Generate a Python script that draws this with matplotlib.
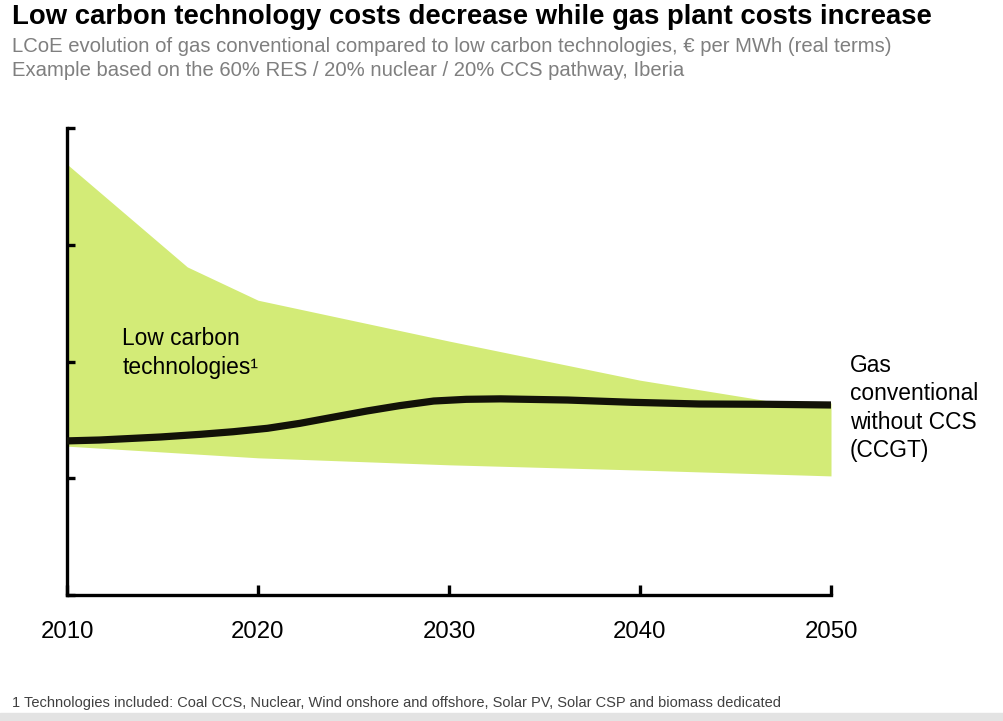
import matplotlib
matplotlib.use("Agg")
import matplotlib.pyplot as plt
from matplotlib.patches import Rectangle
import numpy as np

plt.rcParams['font.family'] = ['Liberation Sans', 'DejaVu Sans']

# Data (index scale; y axis has no labels)
upper_years = [2010, 2016.3, 2020, 2030, 2040, 2047, 2050]
upper_vals = [73.8, 56.2, 50.5, 43.5, 36.8, 33.1, 32.9]
lower_years = [2010, 2020, 2030, 2040, 2050]
lower_vals = [25.5, 23.5, 22.3, 21.4, 20.4]
gas_years = [2010, 2011.7, 2014.9, 2017.0, 2018.7, 2020.5, 2022.2, 2023.9, 2025.7,
             2027.4, 2029.2, 2030.9, 2032.7, 2036.2, 2039.6, 2043.1, 2046.7, 2050]
gas_vals = [26.4, 26.55, 27.07, 27.53, 27.97, 28.56, 29.41, 30.44, 31.52,
            32.43, 33.23, 33.52, 33.6, 33.4, 33.01, 32.72, 32.67, 32.55]
x_ticks = [2010, 2020, 2030, 2040, 2050]
y_ticks = [0, 20, 40, 60, 80]

fill_x = sorted(set(upper_years) | set(lower_years))
up_i = np.interp(fill_x, upper_years, upper_vals)
lo_i = np.interp(fill_x, lower_years, lower_vals)

fig = plt.figure(figsize=(10.04, 7.21), dpi=100)
ax = fig.add_axes([67/1004, 1 - 595/721, 764/1004, 467/721])

ax.fill_between(fill_x, lo_i, up_i, color='#d3eb77', linewidth=0, zorder=1)
ax.plot(gas_years, gas_vals, color='#121208', linewidth=5.2, solid_capstyle='butt',
        solid_joinstyle='round', zorder=3)

ax.set_xlim(2010, 2050)
ax.set_ylim(0, 80)
ax.set_xticks(x_ticks)
ax.set_xticklabels([str(y) for y in x_ticks], fontsize=17.3)
ax.set_yticks(y_ticks)
ax.set_yticklabels([])
for s in ['top', 'right']:
    ax.spines[s].set_visible(False)
for s in ['left', 'bottom']:
    ax.spines[s].set_linewidth(2.4)
    ax.spines[s].set_color('black')
ax.tick_params(axis='x', direction='in', length=7, width=2.4, pad=19, colors='black')
ax.tick_params(axis='y', direction='in', length=6, width=2.4)

ax.text(2012.9, 37.0, 'Low carbon\ntechnologies\u00b9', fontsize=16.4, ha='left', va='bottom',
        linespacing=1.32, color='black')
ax.text(2051, 32.0, 'Gas\nconventional\nwithout CCS\n(CCGT)', fontsize=16.4, ha='left', va='center',
        linespacing=1.3, color='black', clip_on=False)

fig.text(12/1004, 1 - 17/721, 'Low carbon technology costs decrease while gas plant costs increase',
         fontsize=19.8, fontweight='bold', ha='left', va='center', color='black')
fig.text(12/1004, 1 - 46/721,
         'LCoE evolution of gas conventional compared to low carbon technologies, \u20ac per MWh (real terms)',
         fontsize=14.6, ha='left', va='center', color='#7f7f7f')
fig.text(12/1004, 1 - 70/721,
         'Example based on the 60% RES / 20% nuclear / 20% CCS pathway, Iberia',
         fontsize=14.6, ha='left', va='center', color='#7f7f7f')
fig.text(12/1004, 1 - 703/721,
         '1 Technologies included: Coal CCS, Nuclear, Wind onshore and offshore, Solar PV, Solar CSP and biomass dedicated',
         fontsize=10.5, ha='left', va='center', color='#404040')
fig.patches.append(Rectangle((0, 0), 1, 8/721, transform=fig.transFigure, color='#e3e3e3', zorder=0))

fig.savefig('out.png', dpi=100)
